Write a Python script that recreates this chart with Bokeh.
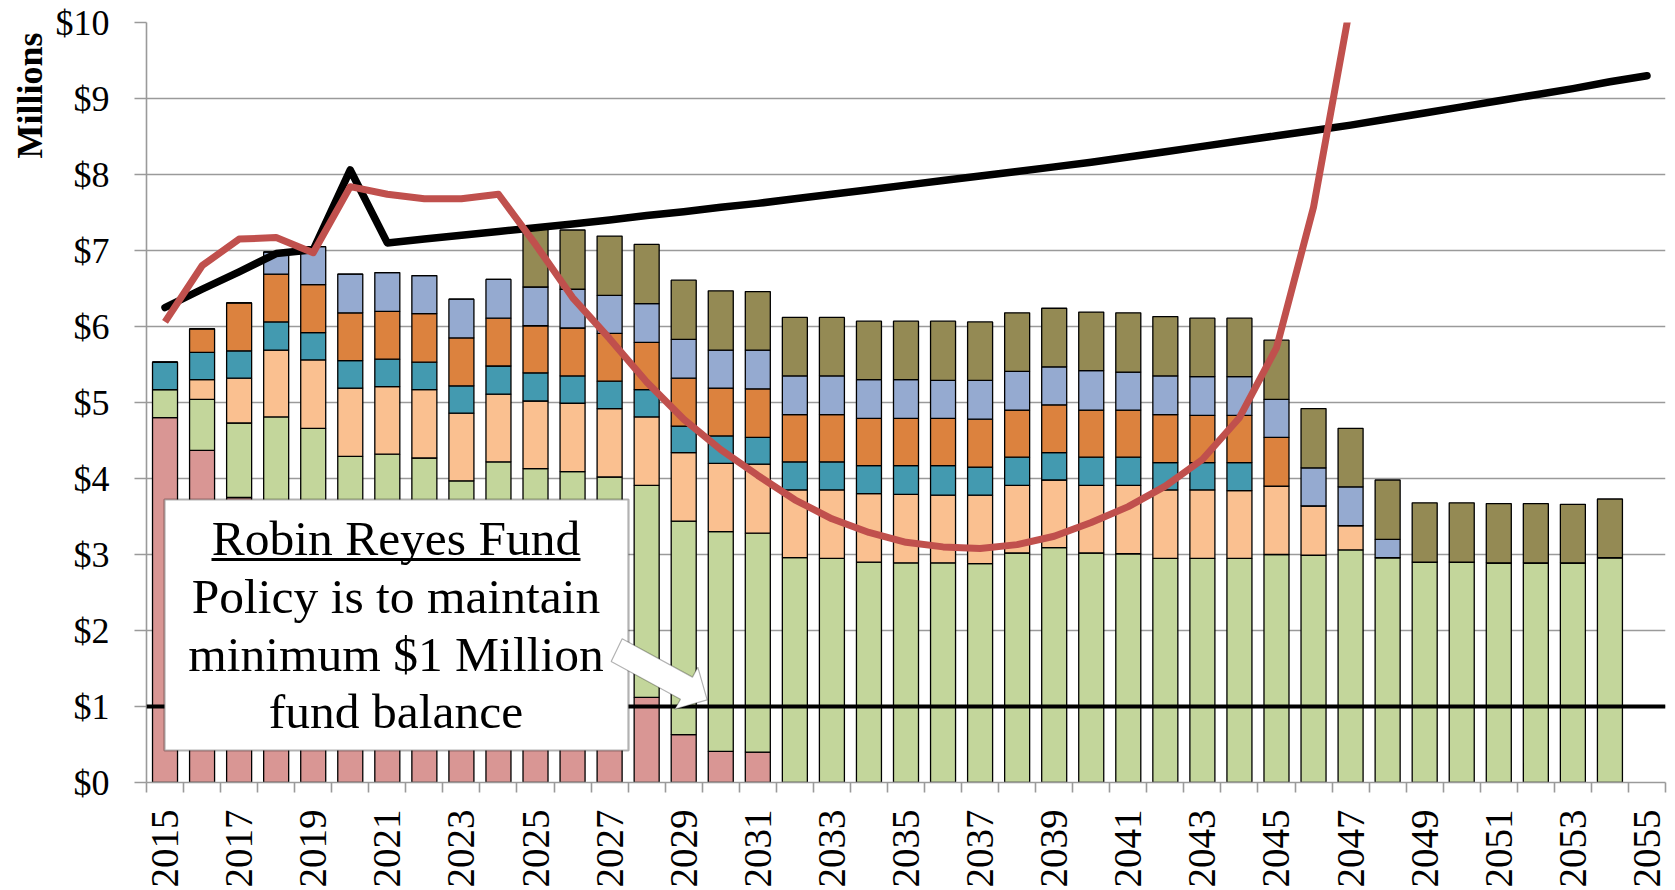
import math
from bokeh.plotting import figure
from bokeh.models import (Range1d, FixedTicker, ColumnDataSource, Span, BoxAnnotation,
                          Label, PolyAnnotation, Title)
from bokeh.embed import file_html
from bokeh.resources import INLINE

# ---------------- data ----------------
years = list(range(2015, 2055))          # bar years
line_years = list(range(2015, 2056))     # black line years
red_years = list(range(2015, 2048))      # red line years (goes off scale after 2047)

seg_pink = [4.80, 4.37, 3.75, 3.50, 3.30, 3.10, 2.90, 2.70, 2.50, 2.30, 2.10, 1.90, 1.60, 1.12,
            0.63, 0.41, 0.40] + [0] * 23
seg_green = [0.37, 0.67, 0.98, 1.31, 1.36, 1.19, 1.42, 1.57, 1.47, 1.92, 2.03, 2.19, 2.42, 2.79,
             2.81, 2.89, 2.88, 2.96, 2.95, 2.90, 2.89, 2.89, 2.88, 3.02, 3.09, 3.02, 3.01, 2.95,
             2.95, 2.95, 3.00, 2.99, 3.06, 2.96, 2.90, 2.90, 2.89, 2.89, 2.89, 2.96]
seg_peach = [0, 0.26, 0.59, 0.88, 0.90, 0.90, 0.89, 0.90, 0.89, 0.89, 0.89, 0.90, 0.90, 0.90,
             0.90, 0.90, 0.91, 0.89, 0.90, 0.90, 0.90, 0.89, 0.90, 0.89, 0.89, 0.89, 0.90, 0.90,
             0.90, 0.89, 0.90, 0.65, 0.32, 0] + [0] * 6
seg_teal = [0.36, 0.36, 0.36, 0.37, 0.36, 0.36, 0.36, 0.36, 0.36, 0.37, 0.37, 0.36, 0.36, 0.36,
            0.35, 0.36, 0.35, 0.37, 0.37, 0.37, 0.38, 0.39, 0.37, 0.37, 0.36, 0.37, 0.37, 0.36,
            0.36, 0.37] + [0] * 10
seg_orange = [0, 0.31, 0.63, 0.63, 0.63, 0.63, 0.63, 0.64, 0.63, 0.63, 0.62, 0.63, 0.63, 0.62,
              0.63, 0.63, 0.64, 0.62, 0.62, 0.62, 0.62, 0.62, 0.63, 0.62, 0.63, 0.62, 0.62, 0.63,
              0.62, 0.62, 0.64] + [0] * 9
seg_blue = [0, 0, 0, 0.29, 0.50, 0.51, 0.51, 0.50, 0.51, 0.51, 0.51, 0.51, 0.50, 0.51,
            0.51, 0.50, 0.51, 0.51, 0.51, 0.51, 0.51, 0.50, 0.51, 0.51, 0.50, 0.52, 0.50, 0.51,
            0.51, 0.51, 0.50, 0.50, 0.51, 0.24] + [0] * 6
seg_olive = [0] * 10 + [0.78, 0.78, 0.78, 0.78, 0.78, 0.78, 0.77, 0.77, 0.77, 0.77, 0.77, 0.78,
                        0.77, 0.77, 0.77, 0.77, 0.78, 0.78, 0.77, 0.77, 0.78, 0.78, 0.77, 0.78,
                        0.78, 0.78, 0.78, 0.78, 0.77, 0.77]

black_line = [6.25, 6.49, 6.72, 6.96, 7.01, 8.06, 7.10, 7.15, 7.20, 7.25, 7.30, 7.35, 7.40, 7.46,
              7.51, 7.57, 7.62, 7.68, 7.74, 7.80, 7.86, 7.92, 7.98, 8.04, 8.10, 8.16, 8.23, 8.30,
              8.37, 8.44, 8.51, 8.58, 8.65, 8.73, 8.81, 8.89, 8.97, 9.05, 9.13, 9.22, 9.30]
red_line = [6.06, 6.80, 7.15, 7.17, 6.97, 7.84, 7.74, 7.68, 7.68, 7.74, 7.08, 6.38, 5.84, 5.27,
            4.78, 4.38, 4.04, 3.72, 3.47, 3.29, 3.16, 3.10, 3.08, 3.13, 3.24, 3.42, 3.63, 3.90,
            4.25, 4.80, 5.72, 7.57, 10.25]
min_balance = 1.0

y_ticks = list(range(0, 11))
y_tick_labels = {t: "$%d" % t for t in y_ticks}
x_label_years = list(range(2015, 2056, 2))

box_lines = ["Robin Reyes Fund", "Policy is to maintain", "minimum $1 Million", "fund balance"]

# ---------------- styles ----------------
colors = ["#D99694", "#C3D69B", "#FAC090", "#439AB0", "#DC823E", "#95AAD0", "#948A54"]
FONT = "Liberation Serif"
GRID = "#9a9a9a"

p = figure(width=1675, height=890, x_range=Range1d(2014.5, 2055.5), y_range=Range1d(0, 10),
           output_backend="svg", toolbar_location=None,
           min_border_left=146, min_border_right=10, min_border_top=22, min_border_bottom=108)
p.outline_line_color = None
p.background_fill_color = "white"
p.border_fill_color = "white"

# grid
p.xgrid.visible = False
p.ygrid.ticker = FixedTicker(ticks=y_ticks)
p.ygrid.grid_line_color = GRID
p.ygrid.grid_line_width = 1.6

# y axis
ya = p.yaxis[0]
ya.ticker = FixedTicker(ticks=y_ticks)
ya.major_label_overrides = y_tick_labels
ya.major_label_text_font = FONT
ya.major_label_text_font_size = "36px"
ya.major_label_text_color = "black"
ya.major_tick_out = 12
ya.major_tick_in = 0
ya.minor_tick_out = 0
ya.minor_tick_in = 0
ya.major_label_standoff = 25
ya.axis_line_color = GRID
ya.axis_line_width = 1.6
ya.major_tick_line_color = GRID
ya.major_tick_line_width = 1.6

# x axis
xa = p.xaxis[0]
xa.ticker = FixedTicker(ticks=x_label_years, minor_ticks=[2014.5 + i for i in range(42)])
xa.major_label_overrides = {y: str(y) for y in x_label_years}
xa.major_label_orientation = math.pi / 2
xa.major_label_text_font = FONT
xa.major_label_text_font_size = "39px"
xa.major_label_text_color = "black"
xa.major_tick_out = 0
xa.major_tick_in = 0
xa.minor_tick_out = 10
xa.minor_tick_in = 0
xa.minor_tick_line_color = GRID
xa.minor_tick_line_width = 1.6
xa.major_label_standoff = 17
xa.axis_line_color = GRID
xa.axis_line_width = 1.6

# y axis title at the top-left
p.add_layout(Title(text="Millions", align="right", offset=10, text_font=FONT,
                   text_font_style="bold", text_font_size="36px", text_color="black",
                   standoff=6), "left")

# bars
names = ["pink", "green", "peach", "teal", "orange", "blue", "olive"]
src = ColumnDataSource(dict(year=years, pink=seg_pink, green=seg_green, peach=seg_peach,
                            teal=seg_teal, orange=seg_orange, blue=seg_blue, olive=seg_olive))
p.vbar_stack(names, x="year", width=0.675, color=colors, line_color="black",
             line_width=1.3, source=src)

# lines
p.line(line_years, black_line, line_color="black", line_width=7.5, line_cap="round",
       line_join="round")
p.line(red_years, red_line, line_color="#C0504D", line_width=7, line_join="round")

# $1 minimum line
p.add_layout(Span(location=min_balance, dimension="width", line_color="black", line_width=4))


# helpers: reference-window pixel -> data coordinates (layout only)
def px2x(px):
    return 2014.5 + (px - 146.0) / 37.05


def py2y(py):
    return (782.0 - py) / 76.0


# text box
p.add_layout(BoxAnnotation(left=px2x(164), right=px2x(628), top=py2y(499), bottom=py2y(750),
                           fill_color="white", fill_alpha=1.0, line_color="black",
                           line_width=2.2, level="annotation"))
cx = px2x(395.5)
FS = 49.5
mid_shift = 16.5
baselines = [554, 612, 670, 727]
for txt, b in zip(box_lines, baselines):
    p.add_layout(Label(x=cx, y=py2y(b - mid_shift), text=txt, text_align="center",
                       text_baseline="middle", text_font=FONT,
                       text_font_size="%.1fpx" % FS, text_color="black"))
# underline of title
p.add_layout(BoxAnnotation(left=px2x(211), right=px2x(580), top=py2y(557.5),
                           bottom=py2y(560.5), fill_color="black", fill_alpha=1.0,
                           line_color=None))

# block arrow
arrow_px = [(621.7, 638.3), (692.0, 676.6), (697.3, 666.7), (706.7, 699.3),
            (674.3, 708.7), (680.0, 698.8), (610.7, 661.0)]
p.add_layout(PolyAnnotation(xs=[px2x(a) for a, b in arrow_px],
                            ys=[py2y(b) for a, b in arrow_px],
                            fill_color="white", fill_alpha=1.0, line_color="black",
                            line_width=1.2))

open("out.html", "w").write(file_html(p, INLINE))
